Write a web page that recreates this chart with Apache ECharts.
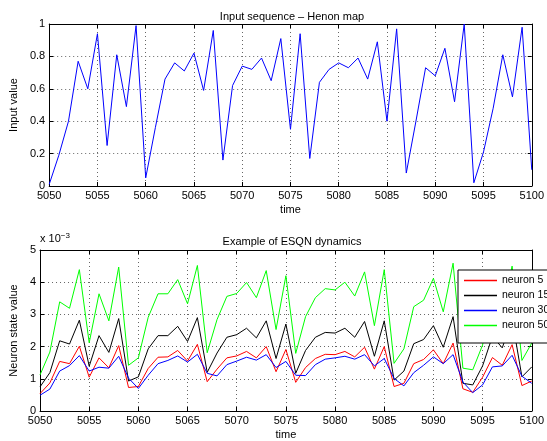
<!DOCTYPE html>
<html>
<head>
<meta charset="utf-8">
<script src="https://cdn.jsdelivr.net/npm/echarts@6/dist/echarts.min.js"></script>
<style>
  html, body { margin: 0; padding: 0; background: #fff; }
  #chart { width: 547px; height: 441px; }
</style>
</head>
<body>
<div id="chart"></div>
<script>
// time steps shown on both plots
var timeStart = 5050
var timeEnd = 5100
var xTicks = [5050, 5055, 5060, 5065, 5070, 5075, 5080, 5085, 5090, 5095, 5100]

// top plot: Henon map input
var inputValues = [0.01, 0.19, 0.40, 0.77, 0.60, 0.94, 0.25, 0.81, 0.49, 0.99,
  0.05, 0.36, 0.66, 0.76, 0.71, 0.82, 0.59, 0.96, 0.16, 0.62,
  0.74, 0.72, 0.79, 0.65, 0.91, 0.35, 0.94, 0.17, 0.64, 0.72,
  0.76, 0.73, 0.79, 0.66, 0.89, 0.40, 0.97, 0.08, 0.40, 0.73,
  0.68, 0.85, 0.52, 1.00, 0.02, 0.21, 0.48, 0.81, 0.55, 0.98, 0.10]

// bottom plot: neuron states, in units of 1e-3
var neuronNames = ['neuron 5', 'neuron 15', 'neuron 30', 'neuron 50']
var neuronColors = ['#ff0000', '#000000', '#0000ff', '#00ff00']
var neuron5 = [0.54, 0.87, 1.54, 1.47, 2.01, 1.05, 1.65, 1.34, 2.03, 0.73,
  0.76, 1.32, 1.67, 1.68, 1.88, 1.55, 2.07, 0.91, 1.30, 1.65,
  1.71, 1.85, 1.65, 2.00, 1.22, 1.91, 0.89, 1.35, 1.63, 1.76,
  1.75, 1.85, 1.68, 1.98, 1.30, 2.00, 0.76, 0.86, 1.47, 1.60,
  1.90, 1.47, 2.11, 0.69, 0.58, 1.05, 1.66, 1.42, 2.06, 0.79, 0.93]
var neuron15 = [0.75, 1.19, 2.18, 2.08, 2.82, 1.39, 2.34, 1.82, 2.87, 0.93,
  1.06, 1.93, 2.34, 2.34, 2.63, 2.16, 2.90, 1.20, 1.80, 2.29,
  2.37, 2.57, 2.27, 2.80, 1.63, 2.70, 1.17, 1.88, 2.29, 2.44,
  2.42, 2.57, 2.29, 2.78, 1.70, 2.80, 0.96, 1.24, 2.09, 2.22,
  2.65, 1.98, 2.93, 0.86, 0.81, 1.40, 2.32, 1.96, 2.85, 1.06, 1.37]
var neuron30 = [0.49, 0.68, 1.24, 1.41, 1.72, 1.24, 1.36, 1.33, 1.70, 1.02,
  0.70, 1.11, 1.47, 1.57, 1.71, 1.52, 1.76, 1.17, 1.09, 1.44,
  1.55, 1.67, 1.58, 1.75, 1.35, 1.54, 1.11, 1.10, 1.44, 1.61,
  1.65, 1.70, 1.61, 1.75, 1.40, 1.63, 1.01, 0.78, 1.19, 1.42,
  1.68, 1.47, 1.75, 0.90, 0.57, 0.81, 1.37, 1.40, 1.73, 1.08, 0.86]
var neuron50 = [1.12, 1.83, 3.39, 3.19, 4.39, 2.12, 3.64, 2.80, 4.47, 1.42,
  1.65, 2.91, 3.64, 3.64, 4.08, 3.33, 4.52, 1.81, 2.84, 3.56,
  3.65, 3.99, 3.52, 4.36, 2.53, 4.20, 1.79, 2.93, 3.52, 3.80,
  3.76, 4.00, 3.57, 4.32, 2.65, 4.39, 1.48, 1.93, 3.24, 3.44,
  4.12, 3.08, 4.59, 1.33, 1.28, 2.05, 3.60, 3.05, 4.50, 1.57, 2.11]

var FONT = 'Liberation Sans'

function pairs(values){
  var out = []
  for(var i=0;i<values.length;i++){
    out.push([timeStart + i, values[i]])
  }
  return out
}

var dotted = { lineStyle: { color: '#666', width: 1, type: [1, 3] } }

function xAxisOf(gridIndex, main){
  return {
    type: 'value', gridIndex: gridIndex, min: timeStart, max: timeEnd, interval: 5,
    position: main ? 'bottom' : 'top',
    name: main ? 'time' : '', nameLocation: 'middle', nameGap: 18,
    nameTextStyle: { color: '#000', fontFamily: FONT, fontSize: 11 },
    axisLine: { onZero: false, lineStyle: { color: '#000', width: 1 } },
    axisTick: { show: true, inside: true, length: 4, lineStyle: { color: '#000' } },
    axisLabel: { show: main, color: '#000', fontFamily: FONT, fontSize: 11, margin: 4,
      formatter: function(v){ return xTicks.indexOf(v) !== -1 ? String(v) : '' } },
    splitLine: main ? Object.assign({ show: true }, dotted) : { show: false }
  }
}

function yAxisOf(gridIndex, main, max, interval, name, gap, fmt){
  return {
    type: 'value', gridIndex: gridIndex, min: 0, max: max, interval: interval,
    position: main ? 'left' : 'right',
    name: main ? name : '', nameLocation: 'middle', nameGap: gap,
    nameTextStyle: { color: '#000', fontFamily: FONT, fontSize: 11 },
    axisLine: { onZero: false, lineStyle: { color: '#000', width: 1 } },
    axisTick: { show: true, inside: true, length: 4, lineStyle: { color: '#000' } },
    axisLabel: { show: main, color: '#000', fontFamily: FONT, fontSize: 11, margin: 4, formatter: fmt },
    splitLine: main ? Object.assign({ show: true }, dotted) : { show: false }
  }
}

var series = [{
  type: 'line', xAxisIndex: 0, yAxisIndex: 0, data: pairs(inputValues),
  showSymbol: false, lineStyle: { color: '#0000ff', width: 1 }, itemStyle: { color: '#0000ff' }
}]
var neuronData = [neuron5, neuron15, neuron30, neuron50]
for(var k=0;k<neuronData.length;k++){
  series.push({
    name: neuronNames[k], type: 'line', xAxisIndex: 2, yAxisIndex: 2, data: pairs(neuronData[k]),
    showSymbol: false, lineStyle: { color: neuronColors[k], width: 1 }, itemStyle: { color: neuronColors[k] }
  })
}

var option = {
  animation: false,
  backgroundColor: '#fff',
  title: [
    { text: 'Input sequence \u2013 Henon map', left: 287, top: 6, textAlign: 'center',
      textStyle: { color: '#000', fontFamily: FONT, fontSize: 11, fontWeight: 'normal' } },
    { text: 'Example of ESQN dynamics', left: 287, top: 231, textAlign: 'center',
      textStyle: { color: '#000', fontFamily: FONT, fontSize: 11, fontWeight: 'normal' } }
  ],
  grid: [
    { left: 40, top: 24, width: 494, height: 162 },
    { left: 40, top: 250, width: 494, height: 163 }
  ],
  xAxis: [xAxisOf(0, true), xAxisOf(0, false), xAxisOf(1, true), xAxisOf(1, false)],
  yAxis: [
    yAxisOf(0, true, 1, 0.2, 'Input value', 23, function(v){ return v === 0 || v === 1 ? String(v) : v.toFixed(1) }),
    yAxisOf(0, false, 1, 0.2),
    yAxisOf(1, true, 5, 1, 'Neuron state value', 15),
    yAxisOf(1, false, 5, 1)
  ],
  legend: {
    data: neuronNames,
    orient: 'vertical',
    left: 458, top: 270,
    icon: 'rect', itemWidth: 33, itemHeight: 1.5, itemGap: 4,
    padding: [5, 80, 12, 6],
    backgroundColor: '#fff', borderColor: '#000', borderWidth: 1,
    textStyle: { color: '#000', fontFamily: FONT, fontSize: 10.5 }
  },
  graphic: [{
    type: 'text', left: 40, top: 232,
    style: {
      text: 'x 10{sup|\u22123}', fill: '#000', font: '11px ' + FONT,
      rich: { sup: { fontSize: 8, fontFamily: FONT, verticalAlign: 'top', padding: [0, 0, 6, 0] } }
    }
  }],
  series: series
}

var myChart = echarts.init(document.getElementById('chart'))
myChart.setOption(option)
</script>
</body>
</html>
